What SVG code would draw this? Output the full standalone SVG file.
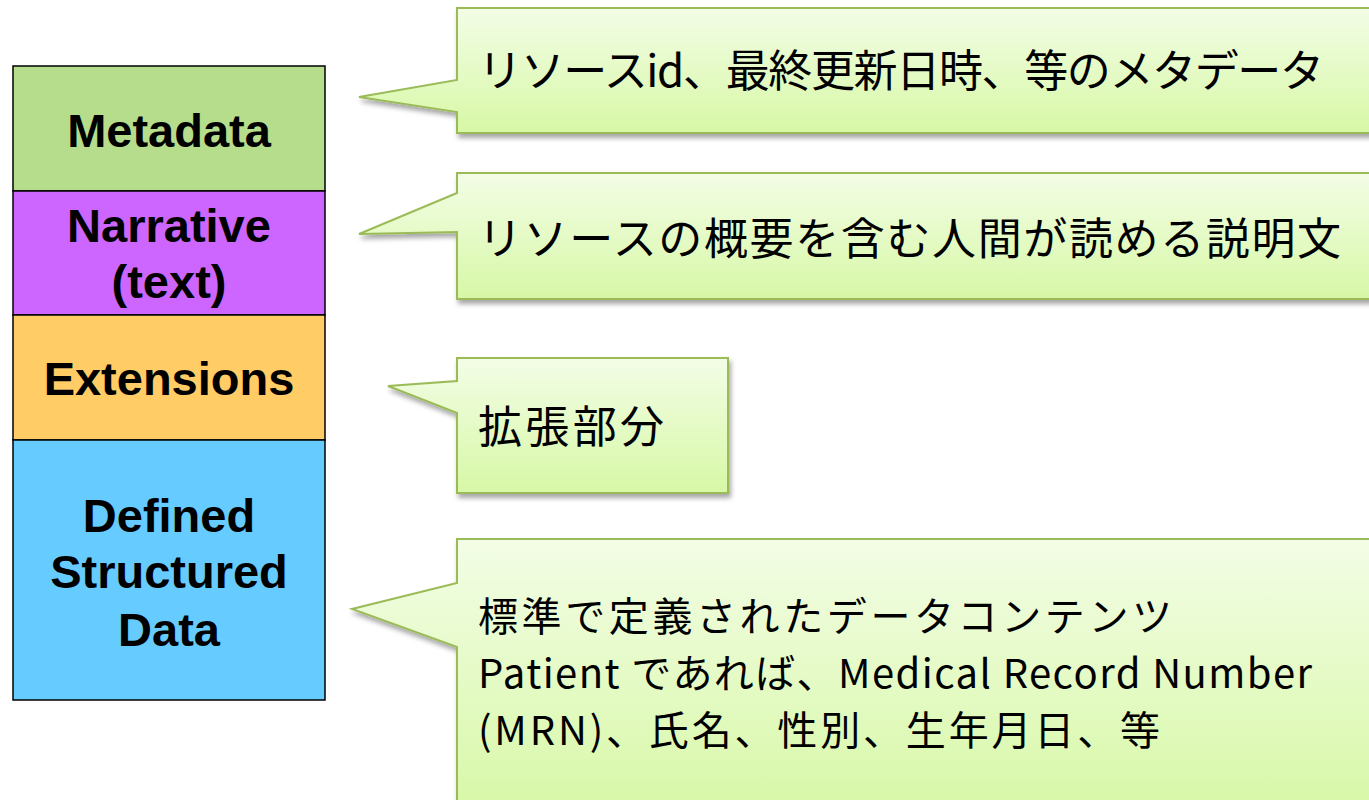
<svg xmlns="http://www.w3.org/2000/svg" width="1369" height="800" viewBox="0 0 1369 800">
<defs>
<linearGradient id="cg" x1="0" y1="0" x2="0" y2="1">
<stop offset="0" stop-color="#f3fde6"/>
<stop offset="1" stop-color="#d7f8a6"/>
</linearGradient>
<filter id="sh" x="-5%" y="-5%" width="115%" height="120%">
<feDropShadow dx="2" dy="4" stdDeviation="2.5" flood-color="#000" flood-opacity="0.35"/>
</filter>
<style>
.blk{stroke:#000;stroke-width:1.5}
.lbl{font-family:"Liberation Sans",Arial,sans-serif;font-weight:bold;font-size:47px;fill:#000;text-anchor:middle}
.co{fill:url(#cg);stroke:#9bbb59;stroke-width:2;filter:url(#sh)}
.ct{font-family:"Noto Sans CJK JP","Noto Sans",sans-serif;font-size:44px;fill:#000}
.ct4{font-family:"Noto Sans CJK JP","Noto Sans",sans-serif;font-size:40px;fill:#000}
</style>
</defs>
<rect width="1369" height="800" fill="#fff"/>
<g id="metadata">
<rect class="blk" x="13" y="66" width="312" height="125" fill="#b5dd8b"/>
<text class="lbl" x="169" y="147">Metadata</text>
</g>
<g id="narrative">
<rect class="blk" x="13" y="191" width="312" height="124" fill="#cc66ff"/>
<text class="lbl" x="169" y="242">Narrative</text>
<text class="lbl" x="169" y="298">(text)</text>
</g>
<g id="extensions">
<rect class="blk" x="13" y="315" width="312" height="125" fill="#ffcc66"/>
<text class="lbl" x="169" y="395">Extensions</text>
</g>
<g id="defined">
<rect class="blk" x="13" y="440" width="312" height="260" fill="#66ccff"/>
<text class="lbl" x="169" y="532">Defined</text>
<text class="lbl" x="169" y="588">Structured</text>
<text class="lbl" x="169" y="646">Data</text>
</g>
<g id="connectors">
<g id="callout-meta">
<path class="co" d="M457,8 H1385 V133 H457 V112 L359,97 L457,80 Z"/>
<text class="ct" x="478" y="87" textLength="846" lengthAdjust="spacing">リソースid、最終更新日時、等のメタデータ</text>
</g>
<g id="callout-narrative">
<path class="co" d="M457,173 H1385 V299 H457 V232 L359,234 L457,193 Z"/>
<text class="ct" x="478" y="255" textLength="863" lengthAdjust="spacing">リソースの概要を含む人間が読める説明文</text>
</g>
<g id="callout-ext">
<path class="co" d="M457,358 H728 V493 H457 V413 L388,386 L457,381 Z"/>
<text class="ct" x="478" y="443" textLength="186" lengthAdjust="spacing">拡張部分</text>
</g>
<g id="callout-defined">
<path class="co" d="M457,539 H1385 V815 H457 V647 L352,609 L457,583 Z"/>
<text class="ct4" x="478" y="631" textLength="694" lengthAdjust="spacing">標準で定義されたデータコンテンツ</text>
<text class="ct4" x="478" y="688" textLength="834" lengthAdjust="spacing">Patient であれば、Medical Record Number</text>
<text class="ct4" x="478" y="745" textLength="682" lengthAdjust="spacing">(MRN)、氏名、性別、生年月日、等</text>
</g>
</g>
</svg>
